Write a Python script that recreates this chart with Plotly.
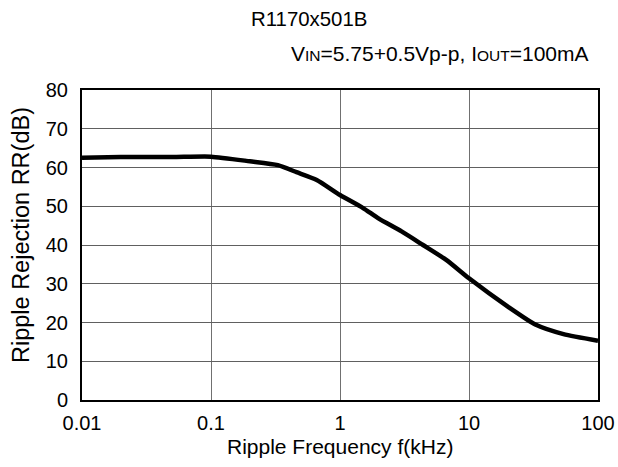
import plotly.graph_objects as go

freq_khz = [0.01, 0.02, 0.05, 0.1, 0.2, 0.33, 0.46, 0.66, 1, 1.5, 2.0, 3, 4.4, 6.7, 10, 20, 33, 54, 100]
rr_db = [62.5, 62.7, 62.7, 62.8, 61.6, 60.6, 58.8, 56.8, 52.9, 49.6, 46.8, 43.5, 40.0, 36.1, 31.4, 24.1, 19.4, 17.0, 15.3]

x_ticks = [0.01, 0.1, 1, 10, 100]
x_tick_text = ["0.01", "0.1", "1", "10", "100"]
y_ticks = [0, 10, 20, 30, 40, 50, 60, 70, 80]

title_text = "R1170x501B"
subtitle_text = ("V<span style='font-size:15.5px'>IN</span>=5.75+0.5Vp-p, "
                 "I<span style='font-size:15.5px'>OUT</span>=100mA")
x_title = "Ripple Frequency f(kHz)"
y_title = "Ripple Rejection RR(dB)"

FONT = "Liberation Sans, Arial, sans-serif"

# plot area on screen: x 82..598, y 90..400
fig = go.Figure()
fig.add_trace(go.Scatter(
    x=freq_khz, y=rr_db, mode="lines",
    line=dict(color="black", width=4.5, shape="spline", smoothing=0.6),
    showlegend=False, hoverinfo="skip",
))

PW, PH = 516, 310

fig.update_layout(
    width=618, height=467,
    margin=dict(l=82, r=20, t=90, b=67),
    paper_bgcolor="white", plot_bgcolor="white",
    font=dict(family=FONT, size=20, color="black"),
    xaxis=dict(
        type="log", range=[-2, 2],
        tickvals=x_ticks, ticktext=x_tick_text,
        showgrid=True, gridcolor="#707070", gridwidth=1,
        showline=True, linecolor="black", linewidth=2, mirror=True,
        ticks="", zeroline=False, automargin=False,
        ticklabelstandoff=4, ticklabeloverflow="allow",
        tickfont=dict(family=FONT, size=20),
    ),
    yaxis=dict(
        range=[0, 80], tickvals=y_ticks,
        showgrid=True, gridcolor="#606060", gridwidth=1,
        showline=True, linecolor="black", linewidth=2, mirror=True,
        ticks="", zeroline=False, automargin=False,
        ticklabelstandoff=8,
        tickfont=dict(family=FONT, size=20),
    ),
    annotations=[
        dict(text=title_text, xref="paper", yref="paper",
             x=(309 - 82) / PW, y=1 + (90 - 19) / PH,
             xanchor="center", yanchor="middle", showarrow=False,
             font=dict(family=FONT, size=20.4)),
        dict(text=subtitle_text, xref="paper", yref="paper",
             x=(591 - 82) / PW, y=1 + (90 - 54) / PH,
             xanchor="right", yanchor="middle", showarrow=False,
             font=dict(family=FONT, size=21)),
        dict(text=x_title, xref="paper", yref="paper",
             x=0.5, y=-(446 - 400) / PH,
             xanchor="center", yanchor="middle", showarrow=False,
             font=dict(family=FONT, size=21)),
        dict(text=y_title, xref="paper", yref="paper",
             x=(21 - 82) / PW, y=(400 - 235) / PH, textangle=-90,
             xanchor="center", yanchor="middle", showarrow=False,
             font=dict(family=FONT, size=23.5)),
    ],
)

fig.write_html("out.html",
               config={"displayModeBar": False},
               post_script="document.body.style.margin='0';document.body.style.overflow='hidden';")
